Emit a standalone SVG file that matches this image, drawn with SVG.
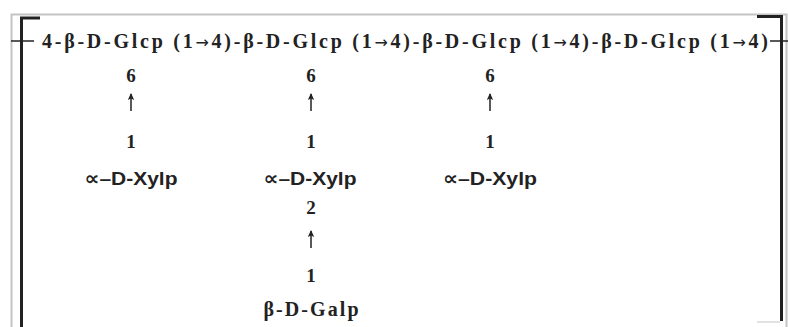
<svg xmlns="http://www.w3.org/2000/svg" width="788" height="327" viewBox="0 0 788 327">
<style>
  .main { font-family: "Liberation Serif", "DejaVu Serif", serif; font-weight: bold; font-size: 20px; fill: #222; }
  .arr { font-family: "DejaVu Sans", sans-serif; font-weight: normal; font-size: 16px; }
  .num { font-family: "Liberation Serif", "DejaVu Serif", serif; font-weight: bold; font-size: 19px; fill: #222; text-anchor: middle; }
  .sug { font-family: "Liberation Sans", "DejaVu Sans", sans-serif; font-weight: bold; font-size: 19px; fill: #222; text-anchor: middle; }
  .sugs { font-family: "Liberation Serif", "DejaVu Serif", serif; font-weight: bold; font-size: 20px; fill: #222; text-anchor: middle; }
  .frame { fill: none; stroke: #c4c4c4; stroke-width: 2; }
  .bracket { fill: none; stroke: #222; stroke-width: 3; }
  .tick { stroke: #222; stroke-width: 1.5; }
  .link { stroke: #222; stroke-width: 1.5; fill: none; marker-end: url(#ah); }
</style>
<defs>
  <marker id="ah" markerWidth="8" markerHeight="8" refX="6" refY="4" orient="auto" markerUnits="userSpaceOnUse" viewBox="0 0 8 8">
    <path d="M0,0.8 L7,4 L0,7.2 L1.5,4 Z" fill="#222"/>
  </marker>
</defs>
<rect width="788" height="327" fill="#fff"/>
<g id="frame">
  <path class="frame" d="M11.5,340 V14.5 H786.5 V340"/>
  <path class="bracket" d="M21.5,327 V18 H40"/>
  <path class="bracket" d="M757,16.5 H781.5 V321"/>
  <line class="tick" x1="11" y1="41" x2="34" y2="41"/>
  <line class="tick" x1="770" y1="41" x2="788" y2="41"/>
  <line x1="757" y1="322" x2="780" y2="322" stroke="#d8d8d8" stroke-width="1.5"/>
</g>
<g id="backbone">
  <text class="main" x="42" y="48" textLength="726" lengthAdjust="spacing">4-β-D-Glcp (1<tspan class="arr">→</tspan>4)-β-D-Glcp (1<tspan class="arr">→</tspan>4)-β-D-Glcp (1<tspan class="arr">→</tspan>4)-β-D-Glcp (1<tspan class="arr">→</tspan>4)</text>
</g>
<g id="branch1">
  <text class="num" x="131" y="82">6</text>
  <text class="num" x="131" y="148">1</text>
  <text class="sug" x="131" y="185" textLength="93" lengthAdjust="spacingAndGlyphs">∝–D-Xylp</text>
</g>
<g id="branch2">
  <text class="num" x="311" y="82">6</text>
  <text class="num" x="311" y="148">1</text>
  <text class="sug" x="310" y="185" textLength="93" lengthAdjust="spacingAndGlyphs">∝–D-Xylp</text>
  <text class="num" x="311" y="214">2</text>
  <text class="num" x="311" y="282">1</text>
  <text class="sugs" x="311" y="316" textLength="95" lengthAdjust="spacing">β-D-Galp</text>
</g>
<g id="branch3">
  <text class="num" x="490" y="82">6</text>
  <text class="num" x="490" y="148">1</text>
  <text class="sug" x="490" y="185" textLength="94" lengthAdjust="spacingAndGlyphs">∝–D-Xylp</text>
</g>
<g id="connectors">
  <line class="link" x1="131" y1="111" x2="131" y2="94"/>
  <line class="link" x1="311" y1="111" x2="311" y2="94"/>
  <line class="link" x1="490" y1="111" x2="490" y2="94"/>
  <line class="link" x1="311" y1="248" x2="311" y2="231"/>
</g>
</svg>
